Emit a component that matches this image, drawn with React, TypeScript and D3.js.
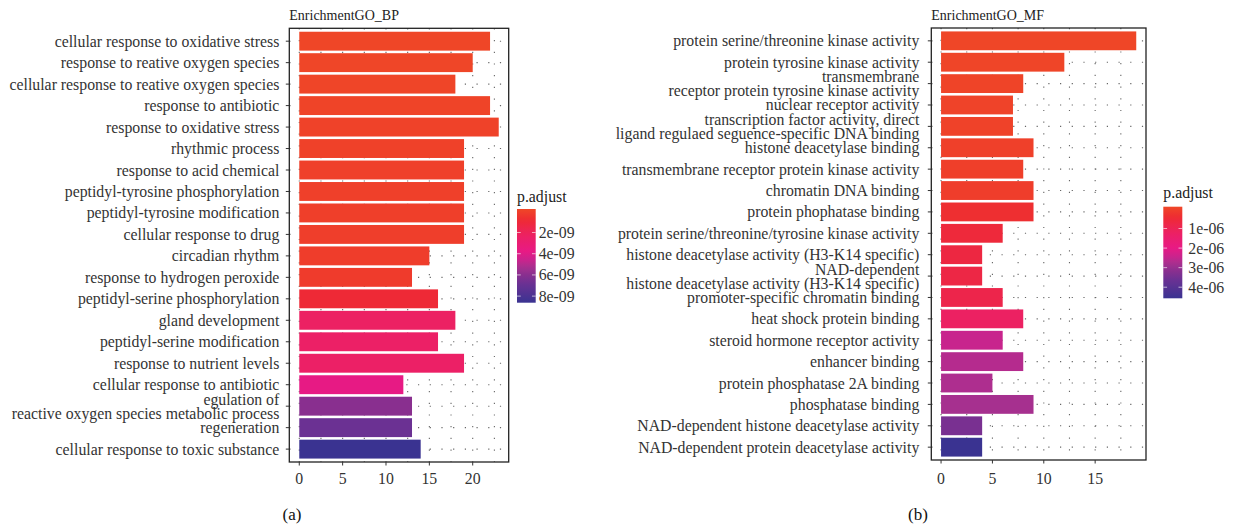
import React from 'react';
import * as d3 from 'd3';

// ---- GO:BP panel data ----
const bpTerms = [
  'cellular response to oxidative stress',
  'response to reative oxygen species',
  'cellular response to reative oxygen species',
  'response to antibiotic',
  'response to oxidative stress',
  'rhythmic process',
  'response to acid chemical',
  'peptidyl-tyrosine phosphorylation',
  'peptidyl-tyrosine modification',
  'cellular response to drug',
  'circadian rhythm',
  'response to hydrogen peroxide',
  'peptidyl-serine phosphorylation',
  'gland development',
  'peptidyl-serine modification',
  'response to nutrient levels',
  'cellular response to antibiotic',
  'egulation of\nreactive oxygen species metabolic process',
  'regeneration',
  'cellular response to toxic substance',
];
const bpCounts = [22, 20, 18, 22, 23, 19, 19, 19, 19, 19, 15, 13, 16, 18, 16, 19, 12, 13, 13, 14];
const bpPadj = [
  2.1e-11, 4.5e-11, 8.2e-11, 1.2e-10, 1.6e-10, 2.0e-10, 2.3e-10, 2.6e-10, 2.9e-10, 3.2e-10,
  3.5e-10, 4.0e-10, 1.1e-9, 2.4e-9, 2.5e-9, 2.5e-9, 3.8e-9, 5.9e-9, 6.7e-9, 8.4e-9,
];
const bpTicks = [0, 5, 10, 15, 20];
const bpMinor = [2.5, 7.5, 12.5, 17.5, 22.5];
const bpLegendTicks = [2e-9, 4e-9, 6e-9, 8e-9];
const bpLegendLabels = ['2e-09', '4e-09', '6e-09', '8e-09'];
const bpPadjRange = [0, 8.4e-9];

// ---- GO:MF panel data ----
const mfTerms = [
  'protein serine/threonine kinase activity',
  'protein tyrosine kinase activity',
  'transmembrane\nreceptor protein tyrosine kinase activity',
  'nuclear receptor activity',
  'transcription factor activity, direct\nligand regulaed seguence-specific DNA binding',
  'histone deacetylase binding',
  'transmembrane receptor protein kinase activity',
  'chromatin DNA binding',
  'protein phophatase binding',
  'protein serine/threonine/tyrosine kinase activity',
  'histone deacetylase activity (H3-K14 specific)',
  'NAD-dependent\nhistone deacetylase activity (H3-K14 specific)',
  'promoter-specific chromatin binding',
  'heat shock protein binding',
  'steroid hormone receptor activity',
  'enhancer binding',
  'protein phosphatase 2A binding',
  'phosphatase binding',
  'NAD-dependent histone deacetylase activity',
  'NAD-dependent protein deacetylase activity',
];
const mfCounts = [19, 12, 8, 7, 7, 9, 8, 9, 9, 6, 4, 4, 6, 8, 6, 8, 5, 9, 4, 4];
const mfPadj = [
  1e-8, 3e-8, 6e-8, 8e-8, 1.0e-7, 1.2e-7, 1.5e-7, 1.8e-7, 4.5e-7, 6.5e-7,
  7.5e-7, 8.0e-7, 9.0e-7, 1.25e-6, 2.45e-6, 2.63e-6, 2.7e-6, 2.78e-6, 3.35e-6, 4.45e-6,
];
const mfTicks = [0, 5, 10, 15];
const mfMinor = [2.5, 7.5, 12.5, 17.5];
const mfLegendTicks = [1e-6, 2e-6, 3e-6, 4e-6];
const mfLegendLabels = ['1e-06', '2e-06', '3e-06', '4e-06'];
const mfPadjRange = [0, 4.45e-6];

// colour ramp for p.adjust (low -> high)
const rampPos = [0, 0.12, 0.28, 0.45, 0.55, 0.62, 0.7, 0.8, 1];
const rampCol = ['#EF4727', '#EE2A33', '#EC2162', '#E81A84', '#C8248D', '#A8308F', '#8A2F8F', '#6A3193', '#3A3391'];
const ramp = d3.scaleLinear<string>().domain(rampPos).range(rampCol).interpolate(d3.interpolateRgb).clamp(true);

const FONT = "'Liberation Serif', 'DejaVu Serif', serif";
const TXT = '#333';
const FS = 15.8;

function Panel(p) {
  const n = p.terms.length;
  const maxCount = d3.max(p.counts);
  const x = d3.scaleLinear().domain([-0.05 * maxCount, maxCount * 1.05]).range([p.box.x0, p.box.x1]);
  const y = d3.scalePoint().domain(d3.range(n)).range([p.box.y0, p.box.y1]).padding(0.6);
  const barH = y.step() * 0.88;
  const t = d3.scaleLinear().domain(p.padjRange).range([0, 1]);
  const color = (v) => ramp(t(v));

  const lg = p.legend;
  const ly = d3.scaleLinear().domain(p.padjRange).range([lg.y0 + (lg.y1 - lg.y0) / 40, lg.y1 - (lg.y1 - lg.y0) / 40]);
  const gid = 'grad-' + p.id;

  return (
    <g>
      <text x={p.box.x0} y={20} fontFamily={FONT} fontSize={14} fill="#222">{p.title}</text>

      {/* dotted grid */}
      {p.ticks.concat(p.minor).map((v) => (
        <line key={'gx' + v} x1={x(v)} x2={x(v)} y1={p.box.y0} y2={p.box.y1}
          stroke="#666" strokeWidth={1.1} strokeDasharray="1.2 10.5" />
      ))}
      {d3.range(n).map((i) => (
        <line key={'gy' + i} x1={p.box.x0} x2={p.box.x1} y1={y(i)} y2={y(i)}
          stroke="#666" strokeWidth={1.1} strokeDasharray="1.2 10.5" />
      ))}

      {/* bars */}
      {p.counts.map((c, i) => (
        <rect key={'b' + i} x={x(0)} y={y(i) - barH / 2} width={x(c) - x(0)} height={barH} fill={color(p.padj[i])} />
      ))}

      {/* panel border */}
      <rect x={p.box.x0} y={p.box.y0} width={p.box.x1 - p.box.x0} height={p.box.y1 - p.box.y0}
        fill="none" stroke="#222" strokeWidth={1.3} />

      {/* y axis ticks + labels */}
      {p.terms.map((term, i) => {
        const lines = term.split('\n');
        return (
          <g key={'yl' + i}>
            <line x1={p.box.x0 - 3.5} x2={p.box.x0} y1={y(i)} y2={y(i)} stroke="#333" strokeWidth={1} />
            <text x={p.box.x0 - p.labelGap} y={y(i)} textAnchor="end" fontFamily={FONT} fontSize={FS} fill={TXT}>
              {lines.map((ln, k) => (
                <tspan key={k} x={p.box.x0 - p.labelGap} y={y(i) + (k - (lines.length - 1) / 2) * 14} dominantBaseline="central">{ln}</tspan>
              ))}
            </text>
          </g>
        );
      })}

      {/* x axis ticks + labels */}
      {p.ticks.map((v) => (
        <g key={'xt' + v}>
          <line x1={x(v)} x2={x(v)} y1={p.box.y1} y2={p.box.y1 + 3.5} stroke="#333" strokeWidth={1} />
          <text x={x(v)} y={478.5} textAnchor="middle" dominantBaseline="central" fontFamily={FONT} fontSize={FS} fill={TXT}>{v}</text>
        </g>
      ))}

      {/* colour legend */}
      <defs>
        <linearGradient id={gid} x1="0" y1="0" x2="0" y2="1">
          {d3.range(0, 1.0001, 0.05).map((s) => (
            <stop key={s} offset={s} stopColor={ramp(s)} />
          ))}
        </linearGradient>
      </defs>
      <text x={lg.x} y={lg.titleY} dominantBaseline="central" fontFamily={FONT} fontSize={FS} fill="#222">p.adjust</text>
      <rect x={lg.x} y={lg.y0} width={lg.w} height={lg.y1 - lg.y0} fill={`url(#${gid})`} />
      {p.legendTicks.map((v, i) => (
        <g key={'lt' + i}>
          <line x1={lg.x} x2={lg.x + lg.w * 0.2} y1={ly(v)} y2={ly(v)} stroke="#fff" strokeWidth={0.8} opacity={0.8} />
          <line x1={lg.x + lg.w * 0.8} x2={lg.x + lg.w} y1={ly(v)} y2={ly(v)} stroke="#fff" strokeWidth={0.8} opacity={0.8} />
          <text x={lg.x + lg.w + lg.labelGap} y={ly(v)} dominantBaseline="central" fontFamily={FONT} fontSize={FS} fill={TXT}>{p.legendLabels[i]}</text>
        </g>
      ))}

      <text x={p.captionX} y={514} textAnchor="middle" dominantBaseline="central" fontFamily={FONT} fontSize={17} fill="#111">{p.caption}</text>
    </g>
  );
}

export default function App() {
  return (
    <svg width={1235} height={526} style={{ position: 'absolute', left: 0, top: 0, background: '#fff' }}>
      <rect width={1235} height={526} fill="#fff" />
      <Panel id="bp" title="EnrichmentGO_BP" terms={bpTerms} counts={bpCounts} padj={bpPadj}
        ticks={bpTicks} minor={bpMinor} legendTicks={bpLegendTicks} legendLabels={bpLegendLabels} padjRange={bpPadjRange}
        box={{ x0: 289.3, x1: 508.7, y0: 28.3, y1: 462 }} labelGap={10}
        legend={{ x: 517, y0: 209, y1: 302.7, w: 18.7, titleY: 196.7, labelGap: 3 }}
        caption="(a)" captionX={292} />
      <Panel id="mf" title="EnrichmentGO_MF" terms={mfTerms} counts={mfCounts} padj={mfPadj}
        ticks={mfTicks} minor={mfMinor} legendTicks={mfLegendTicks} legendLabels={mfLegendLabels} padjRange={mfPadjRange}
        box={{ x0: 931.3, x1: 1146, y0: 28, y1: 460 }} labelGap={12}
        legend={{ x: 1163.3, y0: 206.7, y1: 298.3, w: 19, titleY: 192.7, labelGap: 6 }}
        caption="(b)" captionX={918} />
    </svg>
  );
}
